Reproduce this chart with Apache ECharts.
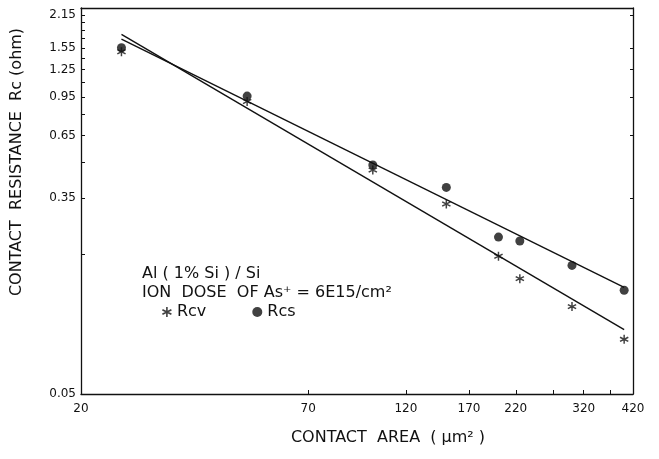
<!DOCTYPE html>
<html>
<head>
<meta charset="utf-8">
<script src="https://cdn.jsdelivr.net/npm/echarts@6/dist/echarts.min.js"></script>
<style>html,body{margin:0;padding:0;background:#fff}#c{width:659px;height:459px}</style>
</head>
<body>
<div id="c"></div>
<script>
// ---- data ----
const areas = [25, 50, 100, 150, 200, 225, 300, 400];
const rcs = [1.55, 0.96, 0.485, 0.388, 0.237, 0.228, 0.179, 0.140];
const rcv = [1.49, 0.91, 0.461, 0.329, 0.196, 0.157, 0.119, 0.086];
const rcsFitX = [25, 400];
const rcsFitY = [1.69, 0.144];
const rcvFitX = [25, 400];
const rcvFitY = [1.77, 0.0946];
const xTickLabels = [20, 70, 120, 170, 220, 320, 420];
const xTicks = [20, 70, 120, 170, 220, 270, 320, 370, 420];
const yTickLabels = [0.05, 0.35, 0.65, 0.95, 1.25, 1.55, 2.15];
const yTicks = [0.05, 0.2, 0.35, 0.5, 0.65, 0.8, 0.95, 1.1, 1.25, 1.4, 1.55, 1.7, 1.85, 2.0, 2.15];

const pair = (xs, ys) => xs.map((x, i) => [x, ys[i]]);
const nearest = (arr, v) => arr.reduce((a, b) => Math.abs(b - v) < Math.abs(a - v) ? b : a);

const starPath = 'path://M4.2 0L5.8 0L5.8 10L4.2 10Z M0.1 3.4L0.9 2.0L9.9 6.6L9.1 8.0Z M0.1 6.6L9.1 2.0L9.9 3.4L0.9 8.0Z';
const FONT = 'DejaVu Sans';

const chart = echarts.init(document.getElementById('c'), null, {renderer: 'canvas'});
chart.setOption({
  animation: false,
  backgroundColor: '#fff',
  textStyle: {fontFamily: FONT, color: '#111'},
  grid: {left: 81, top: 8, width: 552, height: 386, show: false},
  xAxis: [{
    type: 'log', logBase: 10, min: 20, max: 420,
    axisLine: {show: true, lineStyle: {color: '#111', width: 1.3}},
    axisTick: {show: true, inside: true, length: 4, customValues: xTicks, lineStyle: {color: '#111'}},
    axisLabel: {show: true, customValues: xTickLabels, fontSize: 12, color: '#111', fontFamily: FONT, margin: 9,
      formatter: v => String(nearest(xTickLabels, v))},
    splitLine: {show: false}, minorTick: {show: false}
  }, {
    type: 'log', logBase: 10, min: 20, max: 420, position: 'top',
    axisLine: {show: true, lineStyle: {color: '#111', width: 1.3}},
    axisTick: {show: false}, axisLabel: {show: false}, splitLine: {show: false}
  }],
  yAxis: [{
    type: 'log', logBase: 10, min: 0.05, max: 2.3,
    axisLine: {show: true, lineStyle: {color: '#111', width: 1.3}},
    axisTick: {show: true, inside: true, length: 4, customValues: yTicks, lineStyle: {color: '#111'}},
    axisLabel: {show: true, customValues: yTickLabels, fontSize: 12, color: '#111', fontFamily: FONT, margin: 5,
      formatter: v => nearest(yTickLabels, v).toFixed(2)},
    splitLine: {show: false}, minorTick: {show: false}
  }, {
    type: 'log', logBase: 10, min: 0.05, max: 2.3, position: 'right',
    axisLine: {show: true, lineStyle: {color: '#111', width: 1.3}},
    axisTick: {show: true, inside: true, length: 3, customValues: yTickLabels, lineStyle: {color: '#111'}},
    axisLabel: {show: false}, splitLine: {show: false}
  }],
  legend: {
    left: 157, top: 299, itemGap: 46, itemWidth: 10, itemHeight: 10,
    textStyle: {fontFamily: FONT, fontSize: 16, color: '#111'},
    data: [{name: 'Rcv', icon: starPath}, {name: 'Rcs', icon: 'circle'}]
  },
  graphic: [
    {type: 'text', x: 17, y: 162, rotation: Math.PI / 2,
      style: {text: 'CONTACT  RESISTANCE  Rc (ohm)', font: '16px "DejaVu Sans"', fill: '#111', textAlign: 'center', textVerticalAlign: 'middle'}},
    {type: 'text', x: 388, y: 438,
      style: {text: 'CONTACT  AREA  ( \u03bcm\u00b2 )', font: '16px "DejaVu Sans"', fill: '#111', textAlign: 'center', textVerticalAlign: 'middle'}},
    {type: 'text', left: 142, top: 266, style: {text: 'Al ( 1% Si ) / Si', font: '16px "DejaVu Sans"', fill: '#111'}},
    {type: 'text', left: 142, top: 285, style: {text: 'ION  DOSE  OF As\u207a = 6E15/cm\u00b2', font: '16px "DejaVu Sans"', fill: '#111'}}
  ],
  series: [
    {name: 'RcsFit', type: 'line', data: pair(rcsFitX, rcsFitY), showSymbol: false, symbol: 'none',
      lineStyle: {color: '#111', width: 1.4}, z: 3},
    {name: 'RcvFit', type: 'line', data: pair(rcvFitX, rcvFitY), showSymbol: false, symbol: 'none',
      lineStyle: {color: '#111', width: 1.4}, z: 3},
    {name: 'Rcs', type: 'scatter', data: pair(areas, rcs), symbol: 'circle', symbolSize: 9,
      itemStyle: {color: '#111'}, z: 4},
    {name: 'Rcv', type: 'scatter', data: pair(areas, rcv), symbol: starPath, symbolSize: 9,
      itemStyle: {color: '#111'}, z: 4}
  ]
});
</script>
</body>
</html>
